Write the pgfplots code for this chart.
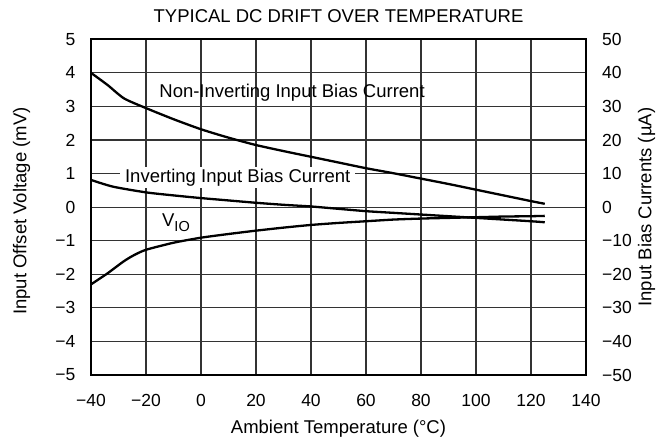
\documentclass[border=0pt]{standalone}
\usepackage{pgfplots}
\pgfplotsset{compat=1.18}
\usepackage{fontspec}
\setmainfont{Liberation Sans}

% Non-inverting input bias current (uA)
\pgfplotstableread{
T I
-40 40.0
-34 36.4
-28 32.4
-20 29.5
-10 26.2
0 23.2
10 20.7
20 18.5
30 16.7
40 15.0
50 13.3
60 11.6
70 10.1
80 8.5
90 6.9
100 5.2
110 3.5
120 1.8
125 1.0
}\noninv
% Inverting input bias current (uA)
\pgfplotstableread{
T I
-40 8.1
-32 6.1
-20 4.4
-10 3.5
0 2.7
10 2.0
20 1.3
30 0.7
40 0.2
50 -0.5
60 -1.2
70 -1.7
80 -2.2
90 -2.7
100 -3.2
110 -3.7
120 -4.2
125 -4.5
}\inv
% Input offset voltage (mV)
\pgfplotstableread{
T V
-40 -2.30
-34.3 -1.99
-28.2 -1.62
-24.6 -1.44
-20 -1.27
-10 -1.06
0 -0.91
10 -0.80
20 -0.70
30 -0.61
40 -0.53
50 -0.47
60 -0.42
70 -0.37
80 -0.34
90 -0.32
100 -0.30
110 -0.28
120 -0.27
125 -0.26
}\vio

\begin{document}
\begin{tikzpicture}[font=\fontsize{18.5bp}{22bp}\selectfont]
\begin{axis}[
  name=ax,
  scale only axis,
  width=495bp, height=335.7bp,
  xmin=-40, xmax=140, ymin=-5, ymax=5,
  xtick={-40,-20,...,140},
  xticklabels={−40,−20,0,20,40,60,80,100,120,140},
  ytick={-5,-4,...,5},
  yticklabels={−5,−4,−3,−2,−1,0,1,2,3,4,5},
  xmajorgrids=true, ymajorgrids=true,
  grid style={draw=black!80, line width=1.1bp},
  axis line style={line width=2bp},
  tick style={draw=none},
  tick label style={inner sep=0pt, font=\fontsize{17.5bp}{21bp}\selectfont},
  xticklabel shift=19bp,
  yticklabel shift=15.5bp,
  title={TYPICAL DC DRIFT OVER TEMPERATURE},
  title style={at={(axis description cs:0.5,1.0515)}, anchor=center, inner sep=0pt},
  xlabel={Ambient Temperature (°C)},
  xlabel style={at={(axis description cs:0.5,-0.159)}, anchor=center, inner sep=0pt},
  ylabel={Input Offset Voltage (mV)},
  ylabel style={at={(axis description cs:-0.140,0.488)}, anchor=center, inner sep=0pt},
  clip=false,
]
\addplot[black, line width=2.3bp, smooth, tension=0.4] table[x=T, y=V] {\vio};
\node[anchor=base west, inner sep=0pt] at (axis cs:-15.2,3.26) {Non-Inverting Input Bias Current};
\node[anchor=base west, fill=white, inner xsep=5bp, inner ysep=2bp] at (axis cs:-29.5,0.74) {Inverting Input Bias Current};
\node[anchor=base west, inner sep=0pt] at (axis cs:-14.2,-0.59) {V\raisebox{-5bp}{\fontsize{14.5bp}{14bp}\selectfont IO}};
\end{axis}
\begin{axis}[
  at={(ax.south west)}, anchor=south west,
  scale only axis,
  width=495bp, height=335.7bp,
  xmin=-40, xmax=140, ymin=-50, ymax=50,
  axis x line=none,
  axis y line*=right,
  ytick={-50,-40,...,50},
  yticklabels={−50,−40,−30,−20,−10,0,10,20,30,40,50},
  axis line style={line width=2bp},
  tick style={draw=none},
  tick label style={inner sep=0pt, font=\fontsize{17.5bp}{21bp}\selectfont},
  yticklabel shift=16bp,
  ylabel={Input Bias Currents (µA)},
  ylabel style={at={(axis description cs:1.1222,0.5)}, anchor=center, inner sep=0pt},
  clip=false,
]
\addplot[black, line width=2.3bp, smooth, tension=0.4] table[x=T, y=I] {\noninv};
\addplot[black, line width=2.3bp, smooth, tension=0.4] table[x=T, y=I] {\inv};
\end{axis}
\path (ax.south west) ++(-91bp,-67bp) coordinate (bl);
\path (ax.north east) ++(77bp,39.3bp) coordinate (tr);
\pgfresetboundingbox
\useasboundingbox (bl) rectangle (tr);
\end{tikzpicture}
\end{document}
